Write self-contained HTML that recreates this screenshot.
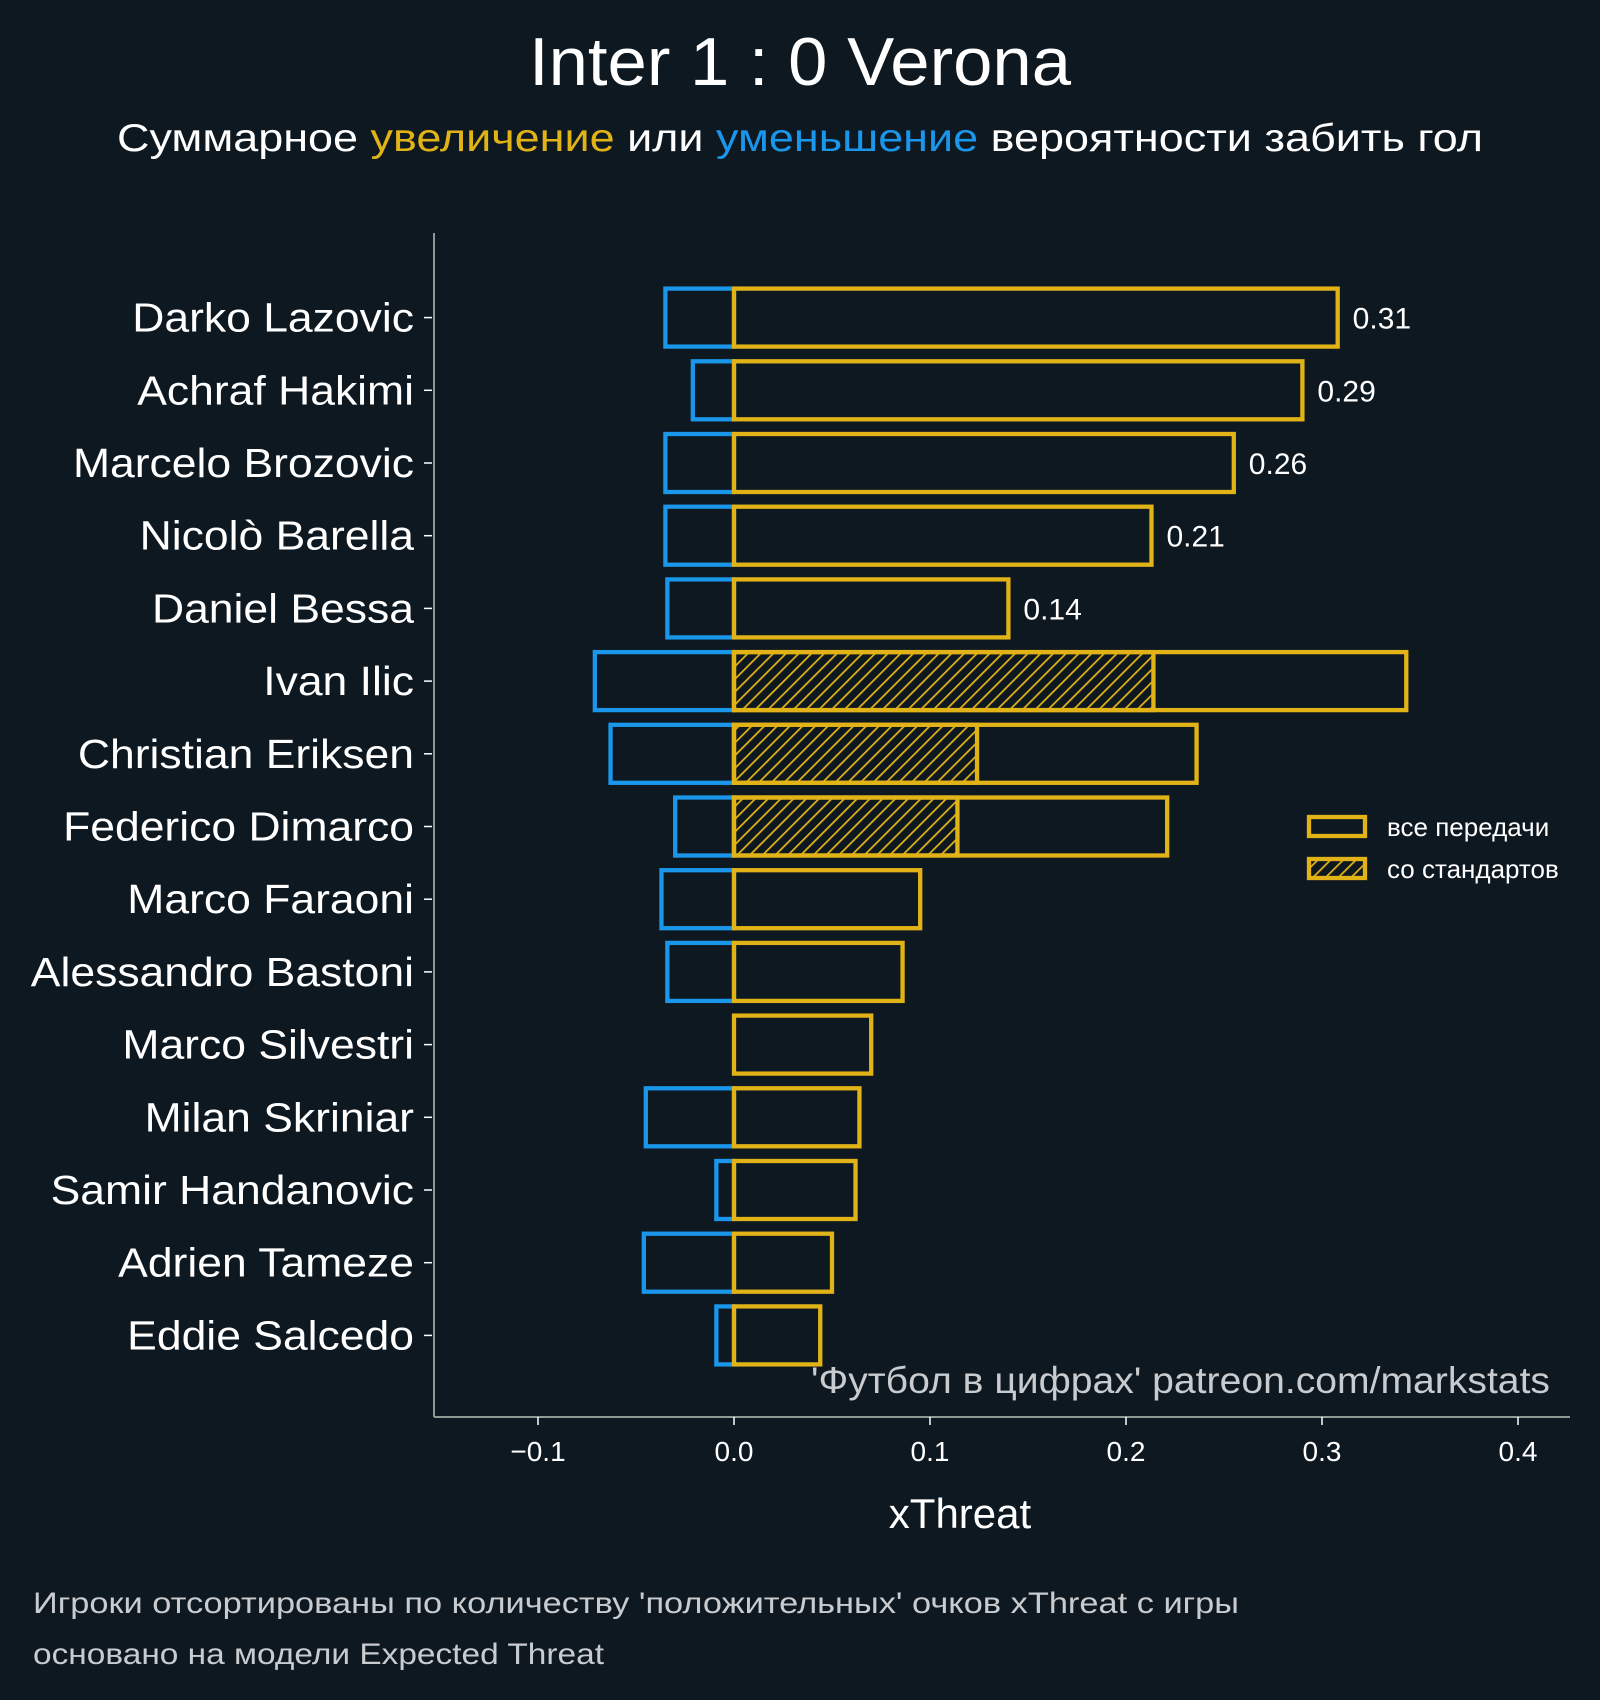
<!DOCTYPE html>
<html><head><meta charset="utf-8">
<style>
html,body{margin:0;padding:0;background:#0e1821;}
svg{display:block;font-family:"Liberation Sans","DejaVu Sans",sans-serif;}
</style></head>
<body>
<svg id="chart" width="1600" height="1700" viewBox="0 0 1600 1700" xmlns="http://www.w3.org/2000/svg">
<defs>
<pattern id="hatch" patternUnits="userSpaceOnUse" width="9" height="9" patternTransform="rotate(45)">
<rect width="9" height="9" fill="#0e1821"/>
<line x1="0" y1="0" x2="0" y2="9" stroke="#e2b317" stroke-width="3.5"/>
</pattern>
</defs>
<rect width="1600" height="1700" fill="#0e1821"/>
<text x="529" y="85" textLength="542" lengthAdjust="spacingAndGlyphs" font-size="68" fill="#ffffff">Inter 1 : 0 Verona</text>
<text x="117" y="151" textLength="1366" lengthAdjust="spacingAndGlyphs" font-size="39" fill="#ffffff">Суммарное <tspan fill="#e2b317">увеличение</tspan> или <tspan fill="#1a96ea">уменьшение</tspan> вероятности забить гол</text>
<g id="plot"></g>
<g>
<rect x="1309" y="817" width="56" height="19" fill="none" stroke="#e2b317" stroke-width="4.3"/>
<text x="1387" y="836" font-size="26" fill="#ffffff">все передачи</text>
<rect x="1309" y="859" width="56" height="19" fill="url(#hatch)" stroke="#e2b317" stroke-width="4.3"/>
<text x="1387" y="878" font-size="26" fill="#ffffff">со стандартов</text>
</g>
<text x="811" y="1393" textLength="739" lengthAdjust="spacingAndGlyphs" font-size="37" fill="#c9ccce">'Футбол в цифрах' patreon.com/markstats</text>
<text x="960" y="1528" text-anchor="middle" font-size="42" fill="#ffffff">xThreat</text>
<text x="33" y="1613" textLength="1206" lengthAdjust="spacingAndGlyphs" font-size="30" fill="#c9ccce">Игроки отсортированы по количеству 'положительных' очков xThreat с игры</text>
<text x="33" y="1664" textLength="571" lengthAdjust="spacingAndGlyphs" font-size="30" fill="#c9ccce">основано на модели Expected Threat</text>
</svg>
<script>
const players = ["Darko Lazovic","Achraf Hakimi","Marcelo Brozovic","Nicolò Barella","Daniel Bessa","Ivan Ilic","Christian Eriksen","Federico Dimarco","Marco Faraoni","Alessandro Bastoni","Marco Silvestri","Milan Skriniar","Samir Handanovic","Adrien Tameze","Eddie Salcedo"];
const negValues = [-0.035,-0.021,-0.035,-0.035,-0.034,-0.071,-0.063,-0.030,-0.037,-0.034,0,-0.045,-0.009,-0.046,-0.009];
const posValues = [0.308,0.290,0.255,0.213,0.140,0.343,0.236,0.221,0.095,0.086,0.070,0.064,0.062,0.050,0.044];
const setPieceValues = [0,0,0,0,0,0.214,0.124,0.114,0,0,0,0,0,0,0];
const valueLabels = ["0.31","0.29","0.26","0.21","0.14","","","","","","","","","",""];
const xTicks = [-0.1,0,0.1,0.2,0.3,0.4];
const xTickLabels = ["−0.1","0.0","0.1","0.2","0.3","0.4"];

const NS="http://www.w3.org/2000/svg";
const g=document.getElementById('plot');
const X0=734, XS=1960;
const x=v=>X0+v*XS;
const Y0=317.6, YS=72.7, BH=58;
const y=i=>Y0+i*YS;
function mk(tag,attrs){const e=document.createElementNS(NS,tag);for(const k in attrs)e.setAttribute(k,attrs[k]);g.appendChild(e);return e;}

let e=mk('line',{x1:434,y1:233,x2:434,y2:1417,stroke:'#8c9a96','stroke-width':2});


e=mk('line',{x1:434,y1:1417,x2:1570,y2:1417,stroke:'#8c9a96','stroke-width':2});



xTicks.forEach((t,i)=>{
  let l=mk('line',{x1:x(t),y1:1417,x2:x(t),y2:1425,stroke:'#ffffff','stroke-width':1.5});
  
  
  let tx=mk('text',{x:x(t),y:1461,'text-anchor':'middle','font-size':28,fill:'#ffffff'});
  tx.textContent=xTickLabels[i];
  
  
});

players.forEach((p,i)=>{
  const cy=y(i);
  let l=mk('line',{x1:424,y1:cy,x2:432,y2:cy,stroke:'#ffffff','stroke-width':1.5});
  
  
  let t=mk('text',{x:414,y:cy+14,'text-anchor':'end','font-size':41,fill:'#ffffff',transform:`translate(414 0) scale(1.085 1) translate(-414 0)`});
  t.textContent=p;
  
  
  if(negValues[i]<0){
    let r=mk('rect',{x:x(negValues[i]),y:cy-BH/2,width:x(0)-x(negValues[i]),height:BH,fill:'none',stroke:'#1a96ea','stroke-width':4.3});
    
    
  }
  if(setPieceValues[i]>0){
    let r=mk('rect',{x:x(0),y:cy-BH/2,width:x(setPieceValues[i])-x(0),height:BH,fill:'url(#hatch)',stroke:'#e2b317','stroke-width':4.3});
    
    
  }
  let r=mk('rect',{x:x(0),y:cy-BH/2,width:x(posValues[i])-x(0),height:BH,fill:'none',stroke:'#e2b317','stroke-width':4.3});
  
  
  if(valueLabels[i]){
    let v=mk('text',{x:x(posValues[i])+15,y:cy+11,'font-size':30,fill:'#ffffff'});
    v.textContent=valueLabels[i];
    
    
  }
});
</script>
</body></html>
